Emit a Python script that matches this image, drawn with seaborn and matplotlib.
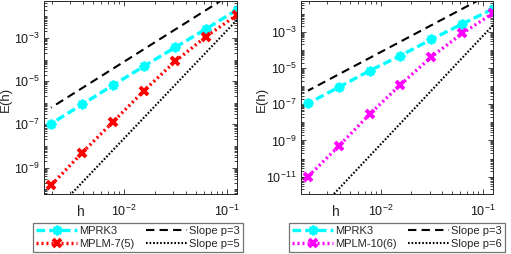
import numpy as np
import pandas as pd
import seaborn as sns
import matplotlib
matplotlib.use("Agg")
import matplotlib.pyplot as plt
from matplotlib.ticker import FixedLocator, FixedFormatter, LogLocator, NullFormatter

# step sizes h = 1/8 ... 1/512
h = [1/8, 1/16, 1/32, 1/64, 1/128, 1/256, 1/512]

# left panel errors
mprk3_left = [2.0e-2, 2.6e-3, 3.6e-4, 4.9e-5, 6.5e-6, 8.3e-7, 1.07e-7]
mplm7 = [1.15e-2, 1.15e-3, 8.1e-5, 3.6e-6, 1.3e-7, 4.8e-9, 1.5e-10]
# right panel errors
mprk3_right = [1.8e-2, 2.7e-3, 3.8e-4, 4.8e-5, 7.1e-6, 8.7e-7, 1.1e-7]
mplm10 = [1.05e-2, 8.1e-4, 4.1e-5, 1.2e-6, 2.8e-8, 4.9e-10, 1.0e-11]

# reference slope lines, endpoints at h=1/8 and h=1/512
h_ends = [1/8, 1/512]
slope3_left = [0.155, 5.9e-7]
slope5_left = [6.8e-3, 6.3e-12]
slope3_right = [0.147, 5.6e-7]
slope6_right = [2.3e-3, 3.35e-14]

sns.set_style("ticks")
plt.rcParams['font.family'] = ['Liberation Sans', 'DejaVu Sans']
plt.rcParams['mathtext.fontset'] = 'custom'
plt.rcParams['mathtext.rm'] = 'Liberation Sans'
plt.rcParams['mathtext.it'] = 'Liberation Sans:italic'
plt.rcParams['font.size'] = 8

fig = plt.figure(figsize=(5.11, 2.54), dpi=100)
axL = fig.add_axes([44/511, 60/254, 193/511, 193/254])
axR = fig.add_axes([301/511, 60/254, 192/511, 193/254])

panels = [
    (axL, mprk3_left, mplm7, 'MPLM-7(5)', 'red', slope3_left, slope5_left, 'Slope p=5',
     (6.0e-11, 5.1e-2), [-9, -7, -5, -3]),
    (axR, mprk3_right, mplm10, 'MPLM-10(6)', 'magenta', slope3_right, slope6_right, 'Slope p=6',
     (1.1e-12, 5.0e-2), [-11, -9, -7, -5, -3]),
]

for ax, e1, e2, name2, col2, s3, sp, spname, ylim, yexp in panels:
    df1 = pd.DataFrame({'h': h, 'E': e1})
    df2 = pd.DataFrame({'h': h, 'E': e2})
    sns.lineplot(data=df1, x='h', y='E', ax=ax, color='cyan', linestyle=(0, (2.6, 1.2)), linewidth=2.4,
                 marker=(8, 2, 0), markersize=7, markeredgewidth=1.8, markeredgecolor='cyan',
                 label='MPRK3', sort=False)
    sns.lineplot(data=df2, x='h', y='E', ax=ax, color=col2, linestyle=(0, (0.6, 0.9)), linewidth=2.4,
                 marker='x', markersize=5.5, markeredgewidth=2.8, markeredgecolor=col2,
                 label=name2, sort=False)
    sns.lineplot(x=h_ends, y=s3, ax=ax, color='black', linestyle=(0, (4, 2.5)), linewidth=1.5,
                 label='Slope p=3', sort=False)
    sns.lineplot(x=h_ends, y=sp, ax=ax, color='black', linestyle=(0, (0.8, 0.9)), linewidth=1.5,
                 label=spname, sort=False)
    ax.set_xscale('log')
    ax.set_yscale('log')
    ax.set_xlim(1.67e-3, 0.125)
    ax.set_ylim(*ylim)
    ax.set_xlabel('')
    ax.set_ylabel('')
    ax.xaxis.set_major_locator(FixedLocator([1e-2, 1e-1]))
    ax.xaxis.set_major_formatter(FixedFormatter(['$10^{-2}$', '$10^{-1}$']))
    ax.xaxis.set_minor_locator(LogLocator(base=10, subs=np.arange(2, 10), numticks=50))
    ax.xaxis.set_minor_formatter(NullFormatter())
    ax.yaxis.set_major_locator(FixedLocator([10.0**k for k in yexp]))
    ax.yaxis.set_major_formatter(FixedFormatter(['$10^{%d}$' % k for k in yexp]))
    ax.yaxis.set_minor_locator(LogLocator(base=10, subs=np.arange(1, 10), numticks=50))
    ax.yaxis.set_minor_formatter(NullFormatter())
    ax.tick_params(which='both', direction='in', top=True, right=True, width=0.6, colors='0.15')
    ax.tick_params(which='major', length=3.5, labelsize=9, labelcolor='0.1')
    ax.tick_params(which='minor', length=2)
    ax.tick_params(axis='x', which='major', pad=7)
    ax.tick_params(axis='y', which='major', pad=3)
    for sp_ in ax.spines.values():
        sp_.set_linewidth(0.7)
        sp_.set_color('0.15')
    ax.get_legend().remove()

fig.text(81/511, 1 - 212/254, 'h', ha='center', va='center', fontsize=10)
fig.text(336/511, 1 - 212/254, 'h', ha='center', va='center', fontsize=10)
fig.text(6/511, 1 - 99/254, 'E(h)', ha='center', va='center', rotation=90, fontsize=9.5)
fig.text(262/511, 1 - 99/254, 'E(h)', ha='center', va='center', rotation=90, fontsize=9.5)

for ax, x0, w in [(axL, 33/511, 210/511), (axR, 289/511, 216/511)]:
    hd, lb = ax.get_legend_handles_labels()
    leg = fig.legend(hd, lb, ncol=2,
                     bbox_to_anchor=(x0, 2/254, w, 35/254), loc='lower left', mode='expand',
                     frameon=True, fancybox=False, framealpha=1, edgecolor='0.45',
                     fontsize=8, handlelength=3.7, handletextpad=0.15, borderpad=0.3,
                     labelspacing=0.25, columnspacing=0.5, borderaxespad=0)
    leg.get_frame().set_linewidth(0.9)

fig.savefig('out.png', dpi=100)
